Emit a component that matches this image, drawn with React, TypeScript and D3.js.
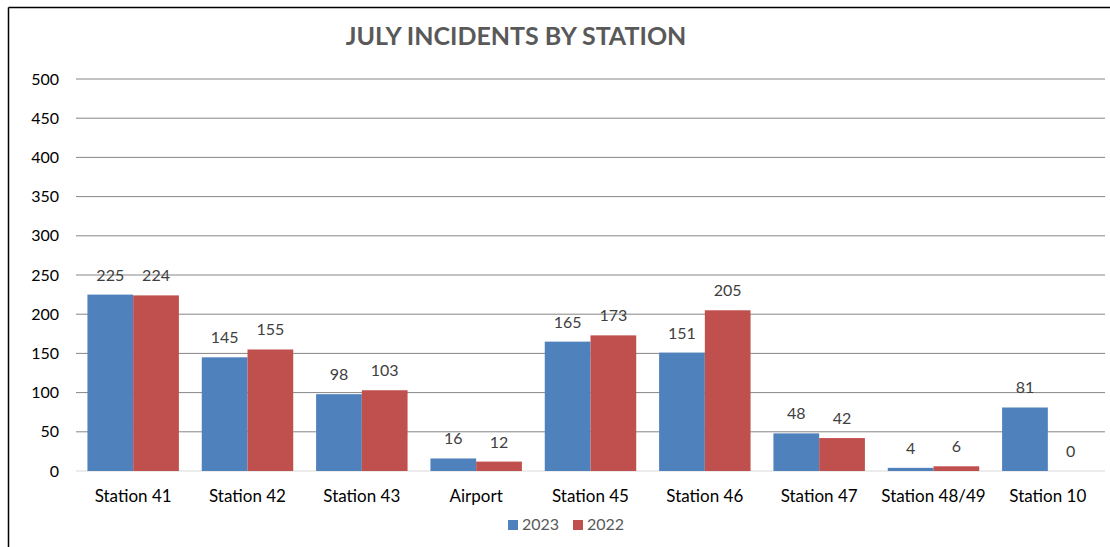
import { scaleBand, scaleLinear, range } from 'd3'

const width = 1110
const height = 547
const margin = { top: 79, right: 5, bottom: 76, left: 76 }

const stations = [
  'Station 41',
  'Station 42',
  'Station 43',
  'Airport',
  'Station 45',
  'Station 46',
  'Station 47',
  'Station 48/49',
  'Station 10',
]
const values2023 = [225, 145, 98, 16, 165, 151, 48, 4, 81]
const values2022 = [224, 155, 103, 12, 173, 205, 42, 6, 0]
const seriesNames = ['2023', '2022']
const colors = ['#4F81BD', '#C0504D']
const yTicks = range(0, 501, 50)

const font = 'Lato, "Open Sans", sans-serif'

export default function App() {
  const innerWidth = width - margin.left - margin.right
  const innerHeight = height - margin.top - margin.bottom

  const x = scaleBand()
    .domain(stations)
    .range([0, innerWidth])
    .paddingInner(0.2)
    .paddingOuter(0.1)
  const xSub = scaleBand()
    .domain(seriesNames)
    .range([0, x.bandwidth()])
  const y = scaleLinear().domain([0, 500]).range([innerHeight, 0])

  const series = [values2023, values2022]

  return (
    <svg
      width={width}
      height={height}
      style={{ position: 'absolute', left: 0, top: 0, fontFamily: font }}
    >
      <rect x={0} y={0} width={width} height={height} fill="#fff" />
      <line x1={8.5} y1={7.5} x2={width} y2={7.5} stroke="#000" strokeWidth={1.5} />
      <line x1={8.5} y1={7.5} x2={8.5} y2={height} stroke="#000" strokeWidth={1.5} />
      <text
        x={516}
        y={45}
        textAnchor="middle"
        fontSize={25}
        fontWeight="bold"
        fill="#595959"
      >
        JULY INCIDENTS BY STATION
      </text>
      <g transform={`translate(${margin.left},${margin.top})`}>
        {yTicks.map((t) => (
          <g key={t} transform={`translate(0,${y(t)})`}>
            <line
              x2={innerWidth}
              stroke={t === 0 ? '#d9d9d9' : '#868686'}
              strokeWidth={1}
            />
            <text x={-17} dy=".35em" textAnchor="end" fontSize={16} fill="#000">
              {t}
            </text>
          </g>
        ))}
        {stations.map((s, i) => (
          <g key={s} transform={`translate(${x(s)},0)`}>
            {series.map((vals, j) => (
              <g key={j}>
                <rect
                  x={xSub(seriesNames[j])}
                  y={y(vals[i])}
                  width={xSub.bandwidth()}
                  height={innerHeight - y(vals[i])}
                  fill={colors[j]}
                />
                <text
                  x={(xSub(seriesNames[j]) ?? 0) + xSub.bandwidth() / 2}
                  y={y(vals[i]) - 14}
                  textAnchor="middle"
                  fontSize={16}
                  fill="#404040"
                >
                  {vals[i]}
                </text>
              </g>
            ))}
            <text
              x={x.bandwidth() / 2}
              y={innerHeight + 31}
              textAnchor="middle"
              fontSize={17}
              fill="#000"
            >
              {s}
            </text>
          </g>
        ))}
      </g>
      <g transform="translate(508,520)">
        {seriesNames.map((n, j) => (
          <g key={n} transform={`translate(${j * 65},0)`}>
            <rect width={10} height={10} fill={colors[j]} />
            <text x={14} y={10} fontSize={16} fill="#595959">
              {n}
            </text>
          </g>
        ))}
      </g>
    </svg>
  )
}
